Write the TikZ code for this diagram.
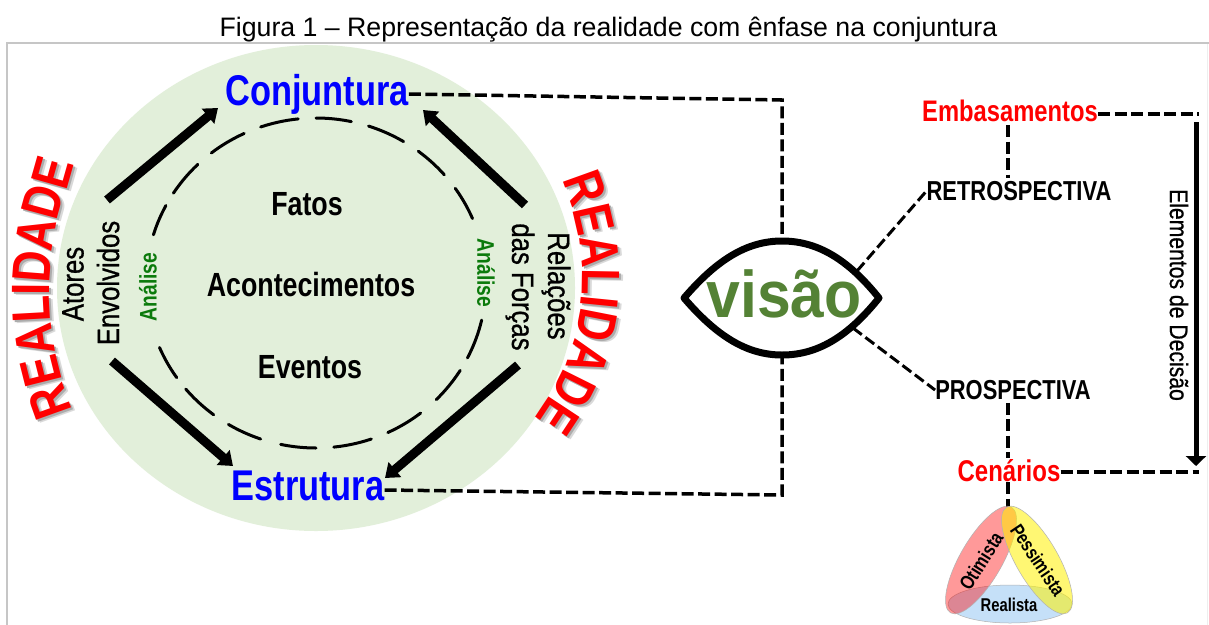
\documentclass[tikz,border=0pt]{standalone}
\usepackage{fontspec}
\setmainfont{Liberation Sans}
\newfontfamily\nf[FakeStretch=0.8]{Liberation Sans}
\newfontfamily\rf[FakeStretch=0.83,FakeBold=0.7]{Liberation Sans}
\newfontfamily\vf[FakeStretch=0.92]{Liberation Sans}
\usetikzlibrary{arrows.meta,decorations.text,calc}
\definecolor{circ}{HTML}{E2EFDA}
\definecolor{vis}{HTML}{548235}
\definecolor{greent}{HTML}{0B7A0B}
\definecolor{frame}{HTML}{C6C6C6}
\tikzset{
 lbl/.style={inner sep=0pt,font=\nf\bfseries\fontsize{#1}{#1}\selectfont,text=black},
 reg/.style={inner sep=0pt,font=\rf\fontsize{#1}{#1}\selectfont,text=black},
 dsh/.style={line width=3.5pt,dash pattern=on 12pt off 4.5pt},
 thin dsh/.style={line width=3pt,dash pattern=on 11pt off 4.5pt},
 big/.style={line width=9pt,-{Triangle[length=13pt,width=19pt]}},
 ell/.style={draw=gray!60,line width=.5pt},
 ringdash/.style={line width=3pt,line cap=round},
}
\newcommand\rtext[1]{%
 \path[decorate,decoration={text along path,text color=#1,text align=left,
   text={|\nf\bfseries\fontsize{54}{54}\selectfont|REALIDADE}}]}
\newcommand\leftarc{(73,410) .. controls (42,335) and (42,255) .. (70,178) -- (85,125)}
\newcommand\rightarc{(562,180) .. controls (592,250) and (592,335) .. (541,410) -- (510,450)}
\begin{document}
\begin{tikzpicture}[x=1pt,y=-1pt]
\useasboundingbox (0,0) rectangle (1209,624);
\fill[white] (0,0) rectangle (1209,624);
\node[inner sep=0pt,font=\fontsize{26.7}{27}\selectfont] (title) at (608.5,30) {Figura 1 – Representação da realidade com ênfase na conjuntura};
\draw[frame!30,line width=1pt] (1207,43) -- (1207,630);
\draw[frame,line width=2.5pt] (7,630) -- (7,43) -- (1209,43);
\fill[circ] (316,288) ellipse [x radius=259pt,y radius=243pt];
% inner ring
\foreach \a/\b in {78/90,96/109,115/128,134/147,152/163,203/215,220/233,239/251,258/270,276/289,295/308,315/328,333/347,23/35,41/53,59/72}
  \draw[ringdash] plot[smooth,domain=\a:\b,samples=8] ({316+170*cos(\x)},{283-165*sin(\x)});
\node[lbl=24,text=greent,rotate=90] (an1) at (148,287) {Análise};
\node[lbl=24,text=greent,rotate=-90] (an2) at (486,273) {Análise};
\node[lbl=43,text=blue] (conj) at (317,94) {Conjuntura};
\node[lbl=43,text=blue] (estr) at (308,486) {Estrutura};
\node[lbl=33.5] (fatos) at (307,204) {Fatos};
\node[lbl=33.5] (acont) at (311,285) {Acontecimentos};
\node[lbl=33.5] (even) at (310,367) {Eventos};
\node[reg=31,rotate=90] (at) at (73,284) {Atores};
\node[reg=31,rotate=90] (env) at (108,283) {Envolvidos};
\node[reg=31,rotate=-90] (rel) at (556,286) {Relações};
\node[reg=31,rotate=-90] (das) at (520,287) {das Forças};
\begin{scope}[shift={(4,3)}]
\rtext{gray!30}\leftarc;
\rtext{gray!30}\rightarc;
\end{scope}
\begin{scope}[shift={(2,2)}]
\rtext{gray!65}\leftarc;
\rtext{gray!65}\rightarc;
\end{scope}
\rtext{red}\leftarc;
\rtext{red}\rightarc;
\coordinate (a1) at (107,200); \coordinate (a2) at (218,108);
\coordinate (b1) at (525,205); \coordinate (b2) at (423,110);
\coordinate (c1) at (112,361); \coordinate (c2) at (233,466);
\coordinate (d1) at (518,365); \coordinate (d2) at (385,478);
\draw[big] (a1) -- (a2);
\draw[big] (b1) -- (b2);
\draw[big] (c1) -- (c2);
\draw[big] (d1) -- (d2);
% eye
\coordinate (k1) at (782,100); \coordinate (k2) at (782,495);
\coordinate (et) at (782,241); \coordinate (eb) at (782,355);
\draw[dsh] (conj.east) -- (k1) -- (et);
\draw[dsh] ([yshift=-4pt]estr.east) -- (k2) -- (eb);
\draw[line width=7pt,line join=round,fill=white] (684,298) coordinate (el) .. controls (715,262) and (745,241) .. (et) .. controls (820,241) and (850,262) .. (879,298) coordinate (er) .. controls (850,334) and (820,355) .. (eb) .. controls (745,355) and (715,334) .. (el) -- cycle;
\node[inner sep=0pt,text=vis,font=\vf\bfseries\fontsize{66}{66}\selectfont] (vis) at (784,294) {visão};
\node[lbl=29.7,text=red] (emb) at (1010,111) {Embasamentos};
\node[lbl=27.4] (ret) at (1019,191) {RETROSPECTIVA};
\node[lbl=27.4] (pro) at (1013,390) {PROSPECTIVA};
\node[lbl=30,text=red] (cen) at (1009,471) {Cenários};
\node[reg=25.5,rotate=-90] (ele) at (1179,295) {Elementos de Decisão};
\coordinate (r1) at (857,271); \coordinate (p1) at (853,328);
\draw[thin dsh] (r1) -- (ret.west);
\draw[thin dsh] (p1) -- (pro.west);
\draw[dsh] ([yshift=-3pt]emb.south -| 1008,0) -- ([yshift=3pt]ret.north -| 1008,0);
\draw[dsh] ([yshift=-3pt]pro.south -| 1008,0) -- ([yshift=2pt]cen.north -| 1008,0);
\coordinate (e1) at (1199,114); \coordinate (e2) at (1199,472);
\draw[dsh] (emb.east |- e1) -- (e1);
\draw[dsh] (cen.east |- e2) -- (e2);
\coordinate (f1) at (1196,122); \coordinate (f2) at (1196,466);
\draw[line width=5pt,-{Triangle[length=10pt,width=20pt]}] (f1) -- (f2);
% scenario ellipses
\coordinate (s0) at (1008,507);
\draw[dsh] (cen.south -| 1008,0) -- (s0);
\draw[ell,fill={rgb,255:red,197;green,224;blue,248}] (1010,604) ellipse [x radius=62pt,y radius=19pt];
\draw[ell,fill=red,fill opacity=.4] (981,560) [rotate around={60:(981,560)}] ellipse [x radius=61pt,y radius=21pt];
\draw[ell,fill=yellow,fill opacity=.55] (1037,560) [rotate around={-60:(1037,560)}] ellipse [x radius=61pt,y radius=21pt];
\node[lbl=20,rotate=58] (oti) at (981,561) {Otimista};
\node[lbl=19.5,rotate=-56] (pes) at (1038,560) {Pessimista};
\node[lbl=18.5] (rea) at (1009,605) {Realista};
\end{tikzpicture}
\end{document}
